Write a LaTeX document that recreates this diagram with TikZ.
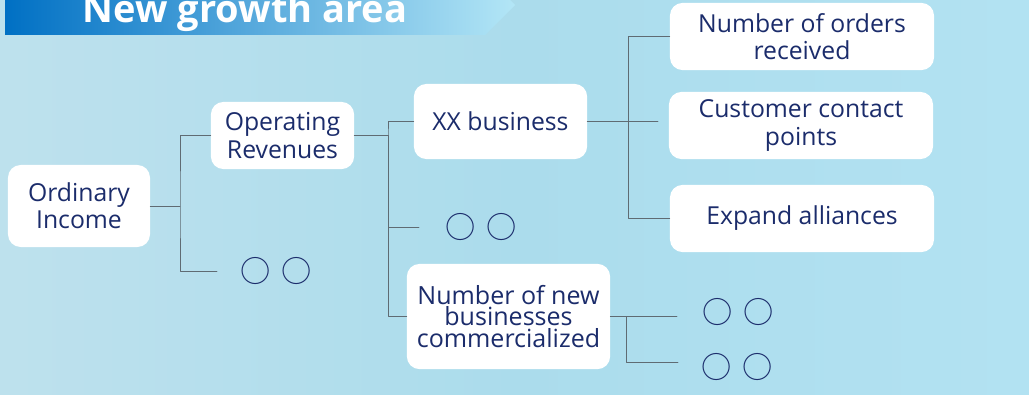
\documentclass[tikz,border=0pt]{standalone}
\usepackage{fontspec}
\setmainfont{Open Sans}
\newfontfamily\cjkfont{Noto Sans CJK JP}
\definecolor{navy}{HTML}{1B2C6B}
\definecolor{linegray}{HTML}{5F6B73}
\definecolor{bgleft}{HTML}{D0E6EE}
\definecolor{bgmid}{HTML}{ABDCEC}
\definecolor{bgright}{HTML}{BAE8F8}
\definecolor{titleleft}{HTML}{0070C4}
\definecolor{titleright}{HTML}{B3E6F6}
\pgfdeclarehorizontalshading{bgshade}{100bp}{color(0bp)=(bgleft); color(50bp)=(bgmid); color(100bp)=(bgright)}

\begin{document}
\begin{tikzpicture}[x=0.025cm,y=-0.025cm,line cap=round,line join=round,
  box/.style={fill=white,rounded corners=9pt,align=center,inner sep=0pt,
    text=navy,font=\fontsize{17.6}{19.5}\selectfont},
  holder/.style={text=navy,font=\cjkfont\fontsize{21.5}{24}\selectfont,inner sep=0pt},
  link/.style={draw=linegray,line width=0.6pt}]
  \useasboundingbox (0,0) rectangle (1029,394);
  \shade[shading=bgshade] (0,0) rectangle (1029,394);
  % title banner
  \begin{scope}
    \clip (0,0) rectangle (1029,394);
    \shade[left color=titleleft,right color=titleright] (5,-25) -- (485,-25) -- (515,5) -- (485,35) -- (5,35) -- cycle;
  \end{scope}
  \node[text=white,font=\bfseries\fontsize{27}{29}\selectfont,anchor=base] (title) at (245,23) {New growth area};
  % boxes
  \node[box,minimum width=3.55cm,minimum height=2.05cm] (root) at (79,206) {Ordinary\\Income};
  \node[box,minimum width=3.58cm,minimum height=1.68cm] (oprev) at (282.5,135.5) {Operating\\Revenues};
  \node[box,minimum width=4.33cm,minimum height=1.88cm] (xxbiz) at (500.5,121.5) {XX business};
  \node[box,minimum width=5.08cm,minimum height=2.63cm,font=\fontsize{17.8}{15}\selectfont] (newbiz) at (508.5,316.5) {Number of new\\businesses\\commercialized};
  \node[box,minimum width=6.6cm,minimum height=1.68cm] (orders) at (802,36.5) {Number of orders\\received};
  \node[box,minimum width=6.6cm,minimum height=1.68cm] (contact) at (801,125.5) {Customer contact\\points};
  \node[box,minimum width=6.6cm,minimum height=1.68cm] (alliance) at (802,218.5) {Expand alliances};
  % placeholders
  \node[holder] (ph1) at (276,271) {○\hspace{8pt}○};
  \node[holder] (ph2) at (481,227) {○\hspace{8pt}○};
  \node[holder] (ph3) at (738,312) {○\hspace{8pt}○};
  \node[holder] (ph4) at (737,367) {○\hspace{8pt}○};
  % connectors
  \coordinate (j1) at (180,206);
  \coordinate (e1) at (217,271);
  \draw[link] (root.east) -- (j1);
  \draw[link] (oprev.west) -| (j1) |- (e1);
  \coordinate (j2) at (388,135.5);
  \coordinate (e2) at (419,227);
  \draw[link] (oprev.east) -- (j2);
  \draw[link] (xxbiz.west) -| (j2) |- (e2);
  \draw[link] (j2) |- (newbiz.west);
  \coordinate (j3) at (628,121.5);
  \coordinate (e3) at (658,121.5);
  \draw[link] (xxbiz.east) -- (e3);
  \draw[link] (orders.west) -| (j3) |- (alliance.west);
  \coordinate (j4) at (626,316.5);
  \coordinate (e4) at (677,316.5);
  \coordinate (e5) at (678,362);
  \draw[link] (newbiz.east) -- (e4);
  \draw[link] (j4) |- (e5);
\end{tikzpicture}
\end{document}
